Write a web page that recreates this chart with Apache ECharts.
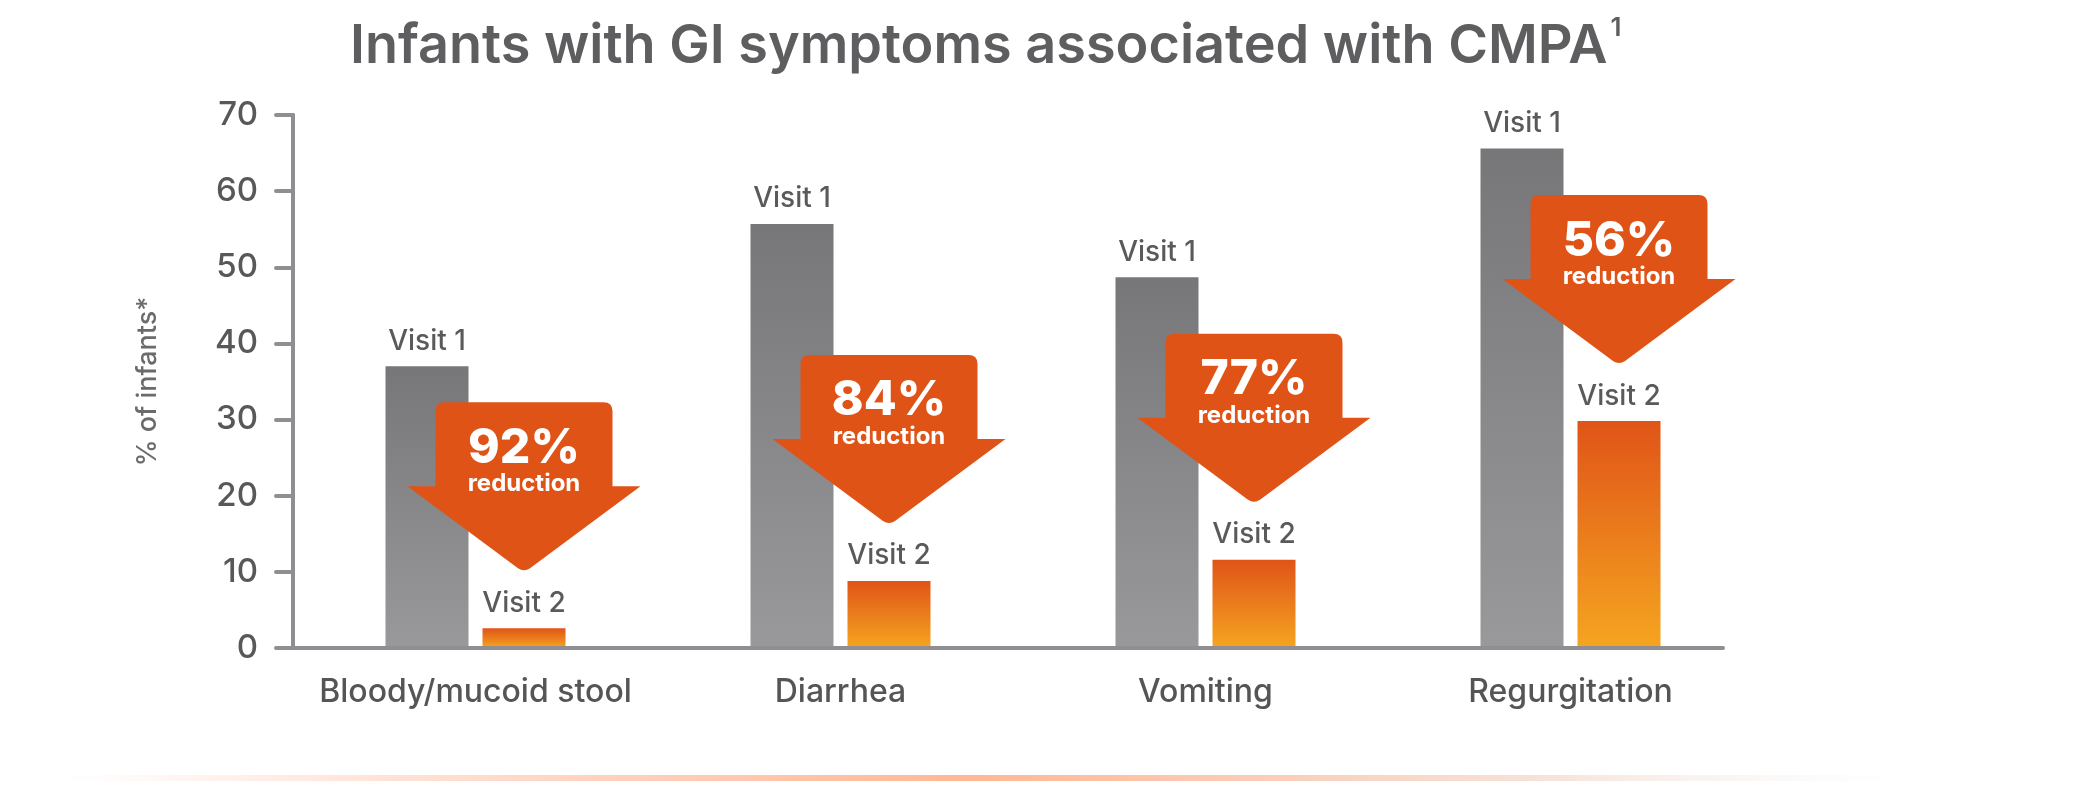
<!DOCTYPE html>
<html>
<head>
<meta charset="utf-8">
<title>Infants with GI symptoms associated with CMPA</title>
<script src="https://cdn.jsdelivr.net/npm/echarts@6/dist/echarts.min.js"></script>
<style>
  html, body { margin: 0; padding: 0; background: #fff; }
  #chart { width: 2096px; height: 787px; }
</style>
</head>
<body>
<div id="chart"></div>
<script>
// data
const categories = ['Bloody/mucoid stool', 'Diarrhea', 'Vomiting', 'Regurgitation']
const visit1 = [37, 55.7, 48.7, 65.6]
const visit2 = [2.6, 8.8, 11.6, 29.8]
const reductions = ['92%', '84%', '77%', '56%']
const yMin = 0
const yMax = 70
const yStep = 10

const FONT = 'Inter, "Noto Sans", sans-serif'
const ORANGE = '#df5317'
const barWidth = 83
const barGapPx = 14
// visit 2 bar centre sits this far right of the category centre
const v2Offset = (barWidth + barGapPx) / 2

const chart = echarts.init(document.getElementById('chart'), null, { renderer: 'canvas' })

function arrowPath(tx, ty) {
  // tx, ty = tip of the arrow
  const top = ty - 169, base = ty - 85
  const sw = 88.5, hw = 116.5, r = 9
  return [
    'M', tx - sw, base,
    'L', tx - sw, top + r,
    'Q', tx - sw, top, tx - sw + r, top,
    'L', tx + sw - r, top,
    'Q', tx + sw, top, tx + sw, top + r,
    'L', tx + sw, base,
    'L', tx + hw, base,
    'L', tx + 6, ty - 3,
    'Q', tx, ty + 1, tx - 6, ty - 3,
    'L', tx - hw, base,
    'Z'
  ].join(' ')
}

chart.setOption({
  animation: false,
  backgroundColor: '#fff',
  title: {
    left: 345,
    top: 10,
    text: '{t|Infants with GI symptoms associated with CMPA}{s|1}',
    textStyle: {
      rich: {
        t: { fontFamily: FONT, fontSize: 54, fontWeight: 600, color: '#5e5e60', lineHeight: 64 },
        s: { fontFamily: FONT, fontSize: 26, fontWeight: 600, color: '#5e5e60', lineHeight: 46, verticalAlign: 'top', padding: [0, 0, 0, 3] }
      }
    }
  },
  grid: { left: 293, right: 343, top: 115, bottom: 139 },
  xAxis: {
    type: 'category',
    data: categories,
    axisLine: { show: false },
    axisTick: { show: false },
    axisLabel: {
      interval: 0,
      margin: 28,
      fontFamily: FONT,
      fontSize: 32,
      fontWeight: 500,
      color: '#555557'
    }
  },
  yAxis: {
    type: 'value',
    min: yMin,
    max: yMax,
    interval: yStep,
    name: '% of infants*',
    nameLocation: 'middle',
    nameGap: 132,
    nameTextStyle: { fontFamily: FONT, fontSize: 27, fontWeight: 500, color: '#6b6b6e' },
    axisLine: { show: true, lineStyle: { color: '#8f8e92', width: 4 } },
    axisTick: { show: true, length: 17, lineStyle: { color: '#8f8e92', width: 4, cap: 'round' } },
    splitLine: { show: false },
    axisLabel: {
      margin: 35,
      fontFamily: FONT,
      fontSize: 33,
      fontWeight: 500,
      color: '#58585a'
    }
  },
  series: [
    {
      name: 'Visit 1',
      type: 'bar',
      data: visit1,
      barWidth: barWidth,
      barGap: (barGapPx / barWidth * 100) + '%',
      itemStyle: {
        color: new echarts.graphic.LinearGradient(0, 0, 0, 1, [
          { offset: 0, color: '#777779' },
          { offset: 1, color: '#99989b' }
        ])
      },
      label: {
        show: true,
        position: 'top',
        distance: 11,
        formatter: 'Visit 1',
        fontFamily: FONT,
        fontSize: 28,
        fontWeight: 500,
        color: '#5a5a5d'
      }
    },
    {
      name: 'Visit 2',
      type: 'bar',
      data: visit2,
      barWidth: barWidth,
      itemStyle: {
        color: new echarts.graphic.LinearGradient(0, 0, 0, 1, [
          { offset: 0, color: '#e05418' },
          { offset: 1, color: '#f5a520' }
        ])
      },
      label: {
        show: true,
        position: 'top',
        distance: 11,
        formatter: 'Visit 2',
        fontFamily: FONT,
        fontSize: 28,
        fontWeight: 500,
        color: '#5a5a5d'
      }
    },
    {
      name: 'reduction',
      type: 'custom',
      z: 5,
      data: visit2.map((v, i) => [i, v]),
      renderItem: function (params, api) {
        const i = api.value(0)
        const p = api.coord([i, api.value(1)])
        const tx = p[0] + v2Offset
        const ty = p[1] - 58
        return {
          type: 'group',
          children: [
            {
              type: 'path',
              shape: {
                pathData: arrowPath(tx, ty),
                x: tx - 116.5, y: ty - 169, width: 233, height: 170
              },
              style: { fill: ORANGE }
            },
            {
              type: 'text',
              style: {
                x: tx, y: ty - 122,
                text: reductions[i],
                fill: '#fff',
                font: '800 48px ' + FONT,
                align: 'center',
                verticalAlign: 'middle'
              }
            },
            {
              type: 'text',
              style: {
                x: tx, y: ty - 86,
                text: 'reduction',
                fill: '#fff',
                font: '700 24px ' + FONT,
                align: 'center',
                verticalAlign: 'middle'
              }
            }
          ]
        }
      }
    }
  ]
})

// x baseline (shorter than the category band) and the soft bottom rule
const y0 = chart.convertToPixel({ yAxisIndex: 0 }, 0)
chart.setOption({
  graphic: [
    {
      type: 'line',
      shape: { x1: 291, y1: y0, x2: 1723, y2: y0 },
      style: { stroke: '#8f8e92', lineWidth: 4, lineCap: 'round' },
      z: 10
    },
    {
      type: 'rect',
      shape: { x: 60, y: 775, width: 1852, height: 6 },
      style: {
        fill: new echarts.graphic.LinearGradient(0, 0, 1, 0, [
          { offset: 0, color: 'rgba(255,235,228,0)' },
          { offset: 0.15, color: '#ffe6dc' },
          { offset: 0.49, color: '#ffb795' },
          { offset: 0.8, color: '#f6e2d8' },
          { offset: 1, color: 'rgba(245,245,245,0)' }
        ])
      }
    }
  ]
})
</script>
</body>
</html>
